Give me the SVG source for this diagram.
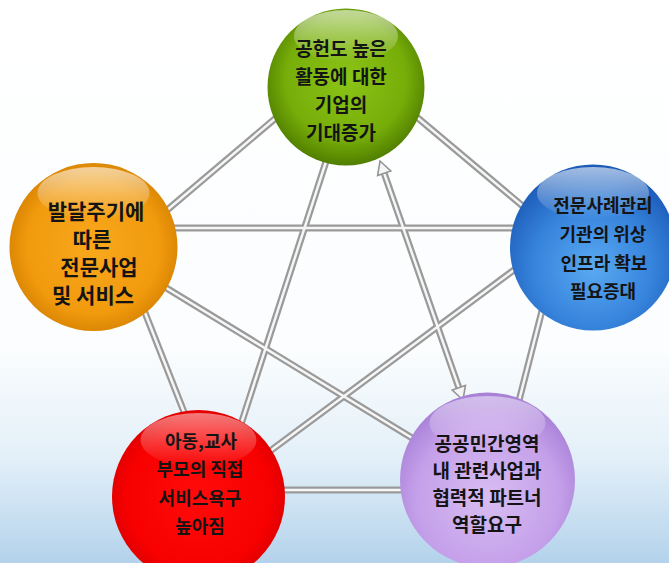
<svg xmlns="http://www.w3.org/2000/svg" width="669" height="563" viewBox="0 0 669 563">
<defs>
<linearGradient id="bg" x1="0" y1="0" x2="0" y2="1">
<stop offset="0" stop-color="#ffffff"/>
<stop offset="0.62" stop-color="#fbfdfe"/>
<stop offset="0.82" stop-color="#e2eff8"/>
<stop offset="1" stop-color="#b3d2eb"/>
</linearGradient>
<radialGradient id="gGreen" cx="0.5" cy="0.45" r="0.55">
<stop offset="0" stop-color="#8cc418"/>
<stop offset="0.7" stop-color="#76ad08"/>
<stop offset="1" stop-color="#507e00"/>
</radialGradient>
<radialGradient id="gOrange" cx="0.5" cy="0.5" r="0.55">
<stop offset="0" stop-color="#f9a81c"/>
<stop offset="0.72" stop-color="#f19a0e"/>
<stop offset="1" stop-color="#d37f00"/>
</radialGradient>
<radialGradient id="gBlue" cx="0.5" cy="0.62" r="0.6">
<stop offset="0" stop-color="#5aaaf2"/>
<stop offset="0.6" stop-color="#3683dc"/>
<stop offset="1" stop-color="#1c5cb8"/>
</radialGradient>
<radialGradient id="gRed" cx="0.5" cy="0.5" r="0.55">
<stop offset="0" stop-color="#ff0a0a"/>
<stop offset="0.75" stop-color="#f80000"/>
<stop offset="1" stop-color="#d80000"/>
</radialGradient>
<radialGradient id="gPurple" cx="0.5" cy="0.6" r="0.58">
<stop offset="0" stop-color="#d8bdf2"/>
<stop offset="0.7" stop-color="#c5a0ea"/>
<stop offset="1" stop-color="#a982d8"/>
</radialGradient>
<linearGradient id="gloss" x1="0" y1="0" x2="0" y2="1">
<stop offset="0" stop-color="#ffffff" stop-opacity="0.6"/>
<stop offset="1" stop-color="#ffffff" stop-opacity="0"/>
</linearGradient>
</defs>
<style>
.po{fill:none;stroke:#9a9a9a;stroke-width:7;stroke-linecap:butt}
.pi{fill:none;stroke:#f6f6f6;stroke-width:2.5;stroke-linecap:butt}
.ah{fill:#f6f6f6;stroke:#959595;stroke-width:1.6;stroke-linejoin:miter}
.t{font-family:"Noto Sans CJK KR","Noto Sans",sans-serif;font-weight:bold;fill:#141414;text-anchor:middle;dominant-baseline:central}
.gl{fill:url(#gloss)}
</style>
<rect x="0" y="0" width="669" height="563" fill="url(#bg)"/>
<g id="connectors">
<g class="po">
<path d="M290,106 L140,233"/>
<path d="M400,103 L550,229"/>
<path d="M333,140 L232,452"/>
<path d="M160,228 L530,228"/>
<path d="M140,300 L195,440"/>
<path d="M150,278 L435,452"/>
<path d="M545,247 L258,460"/>
<path d="M546,295 L512,428"/>
<path d="M270,490 L420,490"/>
<path d="M384.2,173.3 L458.8,387.7"/>
</g>
<g class="pi">
<path d="M290,106 L140,233"/>
<path d="M400,103 L550,229"/>
<path d="M333,140 L232,452"/>
<path d="M160,228 L530,228"/>
<path d="M140,300 L195,440"/>
<path d="M150,278 L435,452"/>
<path d="M545,247 L258,460"/>
<path d="M546,295 L512,428"/>
<path d="M270,490 L420,490"/>
<path d="M384.2,173.3 L458.8,387.7"/>
</g>
<polygon class="ah" points="380,161 390.8,171 377.6,175.6"/>
<polygon class="ah" points="463,400 465.4,385.4 452.2,390"/>
</g>
<g id="node-green">
<circle cx="346" cy="87" r="78.5" fill="url(#gGreen)"/>
<ellipse class="gl" cx="346" cy="36" rx="52" ry="26"/>
<text class="t" font-size="19" x="341" y="47">공헌도 높은</text>
<text class="t" font-size="19" x="341" y="75">활동에 대한</text>
<text class="t" font-size="19" x="341" y="103">기업의</text>
<text class="t" font-size="19" x="341" y="131">기대증가</text>
</g>
<g id="node-orange">
<circle cx="93.5" cy="247" r="84" fill="url(#gOrange)"/>
<ellipse class="gl" cx="93.5" cy="193" rx="56" ry="26"/>
<text class="t" font-size="21" x="96" y="210">발달주기에</text>
<text class="t" font-size="21" x="92" y="238">따른</text>
<text class="t" font-size="21" x="99" y="266">전문사업</text>
<text class="t" font-size="21" x="93" y="294">및 서비스</text>
</g>
<g id="node-blue">
<circle cx="593" cy="247.5" r="83" fill="url(#gBlue)"/>
<ellipse class="gl" cx="593" cy="193" rx="56" ry="26"/>
<text class="t" font-size="18" x="603" y="204">전문사례관리</text>
<text class="t" font-size="18" x="603" y="233">기관의 위상</text>
<text class="t" font-size="18" x="604" y="262">인프라 확보</text>
<text class="t" font-size="18" x="603" y="290">필요증대</text>
</g>
<g id="node-red">
<circle cx="198.5" cy="496.5" r="86.5" fill="url(#gRed)"/>
<ellipse class="gl" cx="198.5" cy="440" rx="58" ry="27" opacity="0.8"/>
<text class="t" font-size="18" x="201" y="440">아동,교사</text>
<text class="t" font-size="18" x="200" y="468">부모의 직접</text>
<text class="t" font-size="18" x="200" y="497">서비스욕구</text>
<text class="t" font-size="18" x="200" y="525">높아짐</text>
</g>
<g id="node-purple">
<circle cx="487.5" cy="480" r="87.5" fill="url(#gPurple)"/>
<ellipse class="gl" cx="487.5" cy="423" rx="58" ry="27" opacity="0.8"/>
<text class="t" font-size="19" x="487" y="442">공공민간영역</text>
<text class="t" font-size="19" x="487" y="469">내 관련사업과</text>
<text class="t" font-size="19" x="487" y="496">협력적 파트너</text>
<text class="t" font-size="19" x="487" y="523">역할요구</text>
</g>
</svg>
